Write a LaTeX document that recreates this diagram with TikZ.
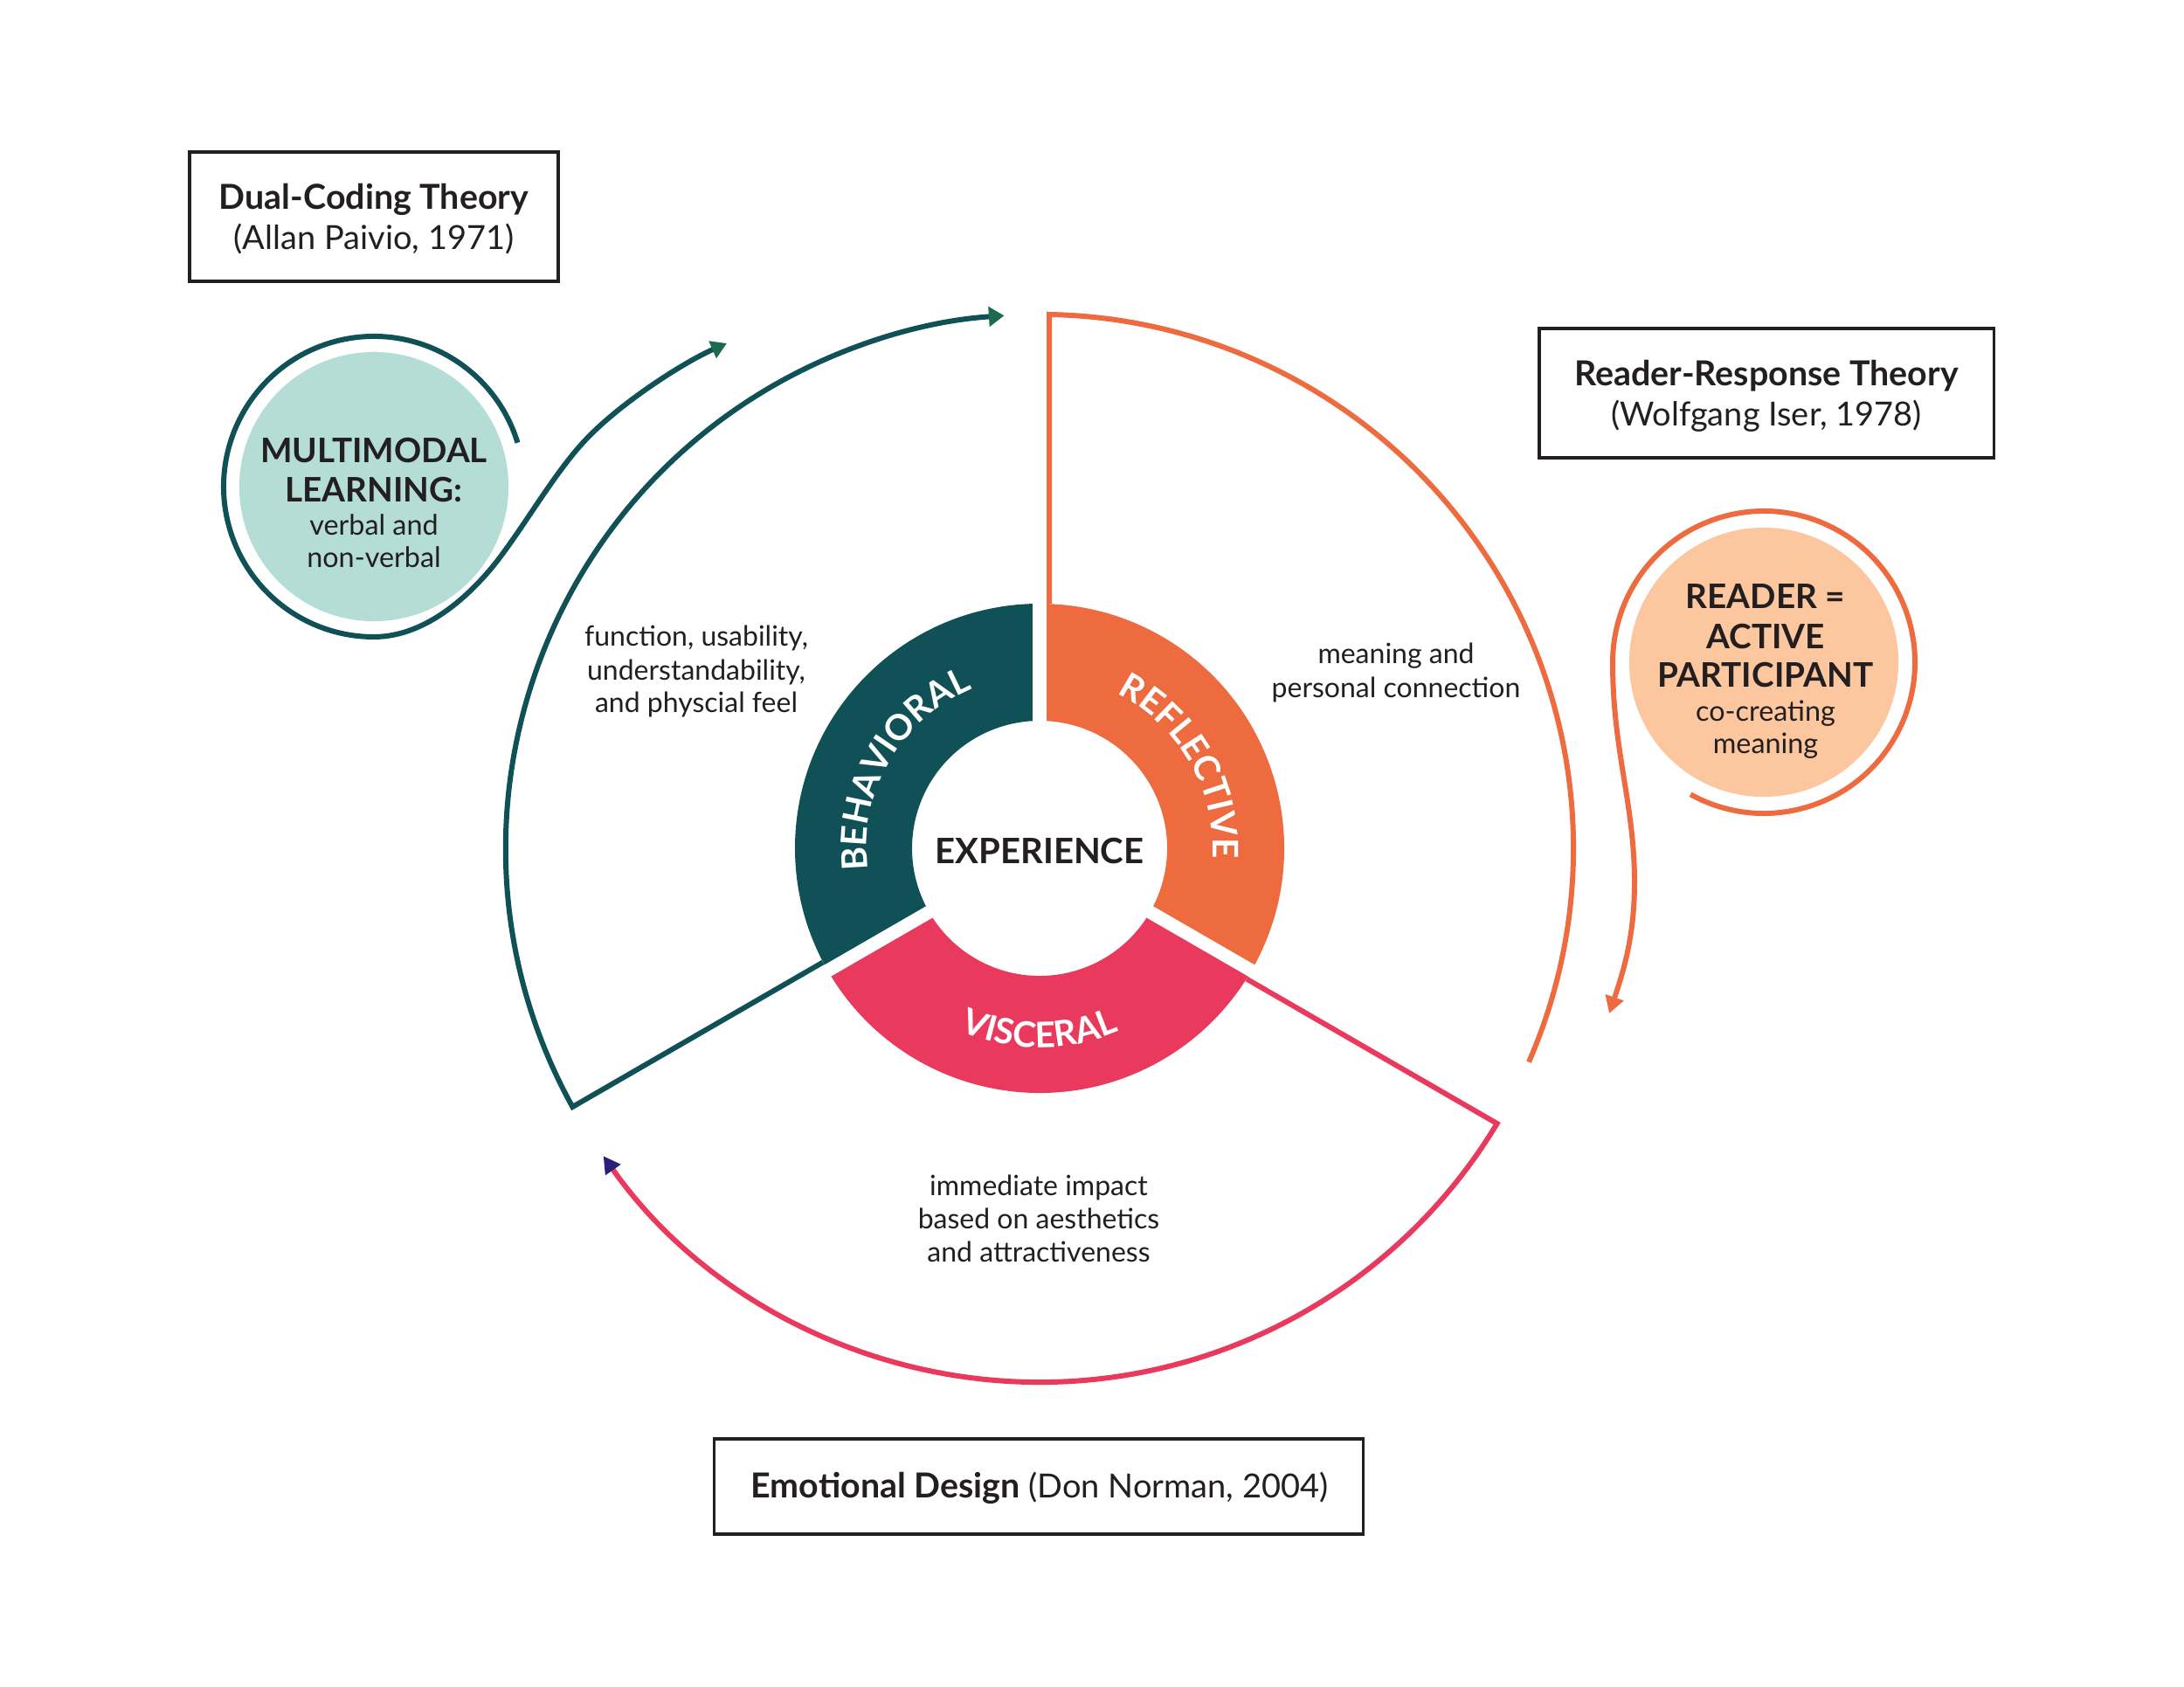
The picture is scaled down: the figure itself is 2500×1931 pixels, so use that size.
\documentclass[tikz,border=0pt]{standalone}
\usepackage{fontspec}
\setmainfont{Lato}
\usetikzlibrary{arrows.meta,decorations.text,calc}
\definecolor{tealdk}{HTML}{0F5156}
\definecolor{tealarrow}{HTML}{1D6A50}
\definecolor{orng}{HTML}{EE6A3F}
\definecolor{pinkr}{HTML}{E93A5E}
\definecolor{navyhead}{HTML}{2B1F7A}
\definecolor{mintfill}{HTML}{B3DDD5}
\definecolor{peachfill}{HTML}{FCC79E}
\definecolor{inkc}{HTML}{231F20}
\begin{document}
\begin{tikzpicture}[x=0.01cm,y=0.01cm,
  conn/.style={line width=1.7pt, line join=miter},
  theorybox/.style={draw=inkc, line width=0.95pt, inner sep=0pt},
  bodytxt/.style={font=\fontsize{9.1pt}{11pt}\selectfont, text=inkc, anchor=base, inner sep=0pt},
  circtxt/.style={font=\fontsize{9.2pt}{11pt}\selectfont, text=inkc, anchor=base, inner sep=0pt},
  subtxt/.style={font=\fontsize{10.8pt}{12pt}\selectfont, text=inkc, anchor=base, inner sep=0pt},
  titletxt/.style={font=\fontsize{11.2pt}{13pt}\selectfont\bfseries, text=inkc, anchor=base, inner sep=0pt},
  bigcap/.style={font=\fontsize{11pt}{13pt}\selectfont\bfseries, text=inkc, anchor=base, inner sep=0pt},
  ringlabel/.style={decorate, decoration={text along path, text align=center, text={|\fontsize{11.5pt}{13pt}\selectfont\bfseries\color{white}|#1}}},
]
\fill[white] (0,0) rectangle (2500,-1931);
\useasboundingbox (0,0) rectangle (2500,-1931);

\coordinate (C) at (1190,-971);

% donut segments
\fill[tealdk] ($(C)+(90:280)$) arc[start angle=90,end angle=210,radius=280] -- ($(C)+(210:146)$) arc[start angle=210,end angle=90,radius=146] -- cycle;
\fill[orng] ($(C)+(-30:280)$) arc[start angle=-30,end angle=90,radius=280] -- ($(C)+(90:146)$) arc[start angle=90,end angle=-30,radius=146] -- cycle;
\fill[pinkr] ($(C)+(210:280)$) arc[start angle=210,end angle=330,radius=280] -- ($(C)+(330:146)$) arc[start angle=330,end angle=210,radius=146] -- cycle;
\foreach \a in {90,210,330} \draw[white, line width=4.3pt] ($(C)+(\a:130)$) -- ($(C)+(\a:290)$);

% ring labels
\path[ringlabel=BEHAVIORAL] ($(C)+(200:198)$) arc[start angle=200,end angle=100,radius=198];
\path[ringlabel=REFLECTIVE] ($(C)+(80:198)$) arc[start angle=80,end angle=-20,radius=198];
\path[ringlabel=VISCERAL] ($(C)+(220:228)$) arc[start angle=220,end angle=320,radius=228];
\node[font=\fontsize{11.4pt}{13pt}\selectfont\bfseries, text=inkc, anchor=base, inner sep=0pt] (exp) at (1190,-988) {EXPERIENCE};

% big connectors
\coordinate (tA) at ($(C)+(210:280)+(120:11)$);
\coordinate (tB) at ($(C)+(210:611)+(120:11)$);
\draw[conn, tealdk, -{Triangle[length=5pt,width=6.3pt,color=tealarrow]}] (tA) -- (tB) arc[start angle=208.97,end angle=93.8,radius=611.1];
\coordinate (oA) at ($(C)+(90:280)+(0:11)$);
\coordinate (oB) at ($(C)+(90:611)+(0:11)$);
\draw[conn, orng] (oA) -- (oB) arc[start angle=88.97,end angle=-23.6,radius=611.1];
\coordinate (pA) at ($(C)+(330:280)+(240:11)$);
\coordinate (pB) at ($(C)+(330:611)+(240:11)$);
\draw[conn, pinkr, -{Triangle[length=5.5pt,width=5.8pt,color=navyhead]}] (pA) -- (pB) arc[start angle=-31.03,end angle=-144.8,radius=611.1];

% multimodal circle
\node[circle, fill=mintfill, minimum size=3.08cm, inner sep=0pt] (mm) at (428,-557) {};
\draw[conn, tealdk, -{Triangle[length=5.1pt,width=5.8pt,color=tealarrow]}] ($(mm.center)+(17:172)$) arc[start angle=17,end angle=270,radius=172]
  .. controls (490,-729) and (543,-677) .. (573,-637)
  .. controls (603,-597) and (635,-542) .. (667,-507)
  .. controls (707,-463) and (782,-415) .. (832,-393);
\node[bigcap] (mm1) at (428,-530) {MULTIMODAL};
\node[bigcap] (mm2) at (428,-575) {LEARNING:};
\node[circtxt] (mm3) at (428,-613) {verbal and};
\node[circtxt] (mm4) at (428,-650) {non-verbal};

% reader circle
\node[circle, fill=peachfill, minimum size=3.08cm, inner sep=0pt] (rd) at (2019,-758) {};
\draw[conn, orng, -{Triangle[length=5.5pt,width=6pt,color=orng]}] ($(rd.center)+(241:173)$) arc[start angle=241,end angle=540,radius=173]
  .. controls (1846,-860) and (1871,-920) .. (1871,-1010)
  .. controls (1871,-1070) and (1859,-1110) .. (1842,-1160);
\node[bigcap] (rd1) at (2021,-696) {READER =};
\node[bigcap] (rd2) at (2021,-742) {ACTIVE};
\node[bigcap] (rd3) at (2021,-787) {PARTICIPANT};
\node[circtxt] (rd4) at (2021,-825) {co-creating};
\node[circtxt] (rd5) at (2021,-862) {meaning};

% theory boxes
\node[theorybox, minimum width=4.22cm, minimum height=1.48cm] (dualbox) at (428,-248) {};
\node[titletxt] (dual1) at (428,-240) {Dual-Coding Theory};
\node[subtxt] (dual2) at (428,-286) {(Allan Paivio, 1971)};
\node[theorybox, minimum width=5.20cm, minimum height=1.48cm] (rrbox) at (2022,-450) {};
\node[titletxt] (rr1) at (2022,-442) {Reader-Response Theory};
\node[subtxt] (rr2) at (2022,-488) {(Wolfgang Iser, 1978)};
\node[theorybox, minimum width=7.42cm, minimum height=1.09cm] (emobox) at (1189,-1701.5) {};
\node[subtxt] (emo) at (1190,-1714) {{\fontsize{11.2pt}{13pt}\selectfont\bfseries Emotional Design} (Don Norman, 2004)};

% descriptions
\node[bodytxt] (beh1) at (797,-740) {function, usability,};
\node[bodytxt] (beh2) at (797,-778) {understandability,};
\node[bodytxt] (beh3) at (797,-815) {and physcial feel};
\node[bodytxt] (ref1) at (1598,-760) {meaning and};
\node[bodytxt] (ref2) at (1598,-798) {personal connection};
\node[bodytxt] (vis1) at (1189,-1368) {immediate impact};
\node[bodytxt] (vis2) at (1189,-1406) {based on aesthetics};
\node[bodytxt] (vis3) at (1189,-1444) {and attractiveness};
\end{tikzpicture}
\end{document}
